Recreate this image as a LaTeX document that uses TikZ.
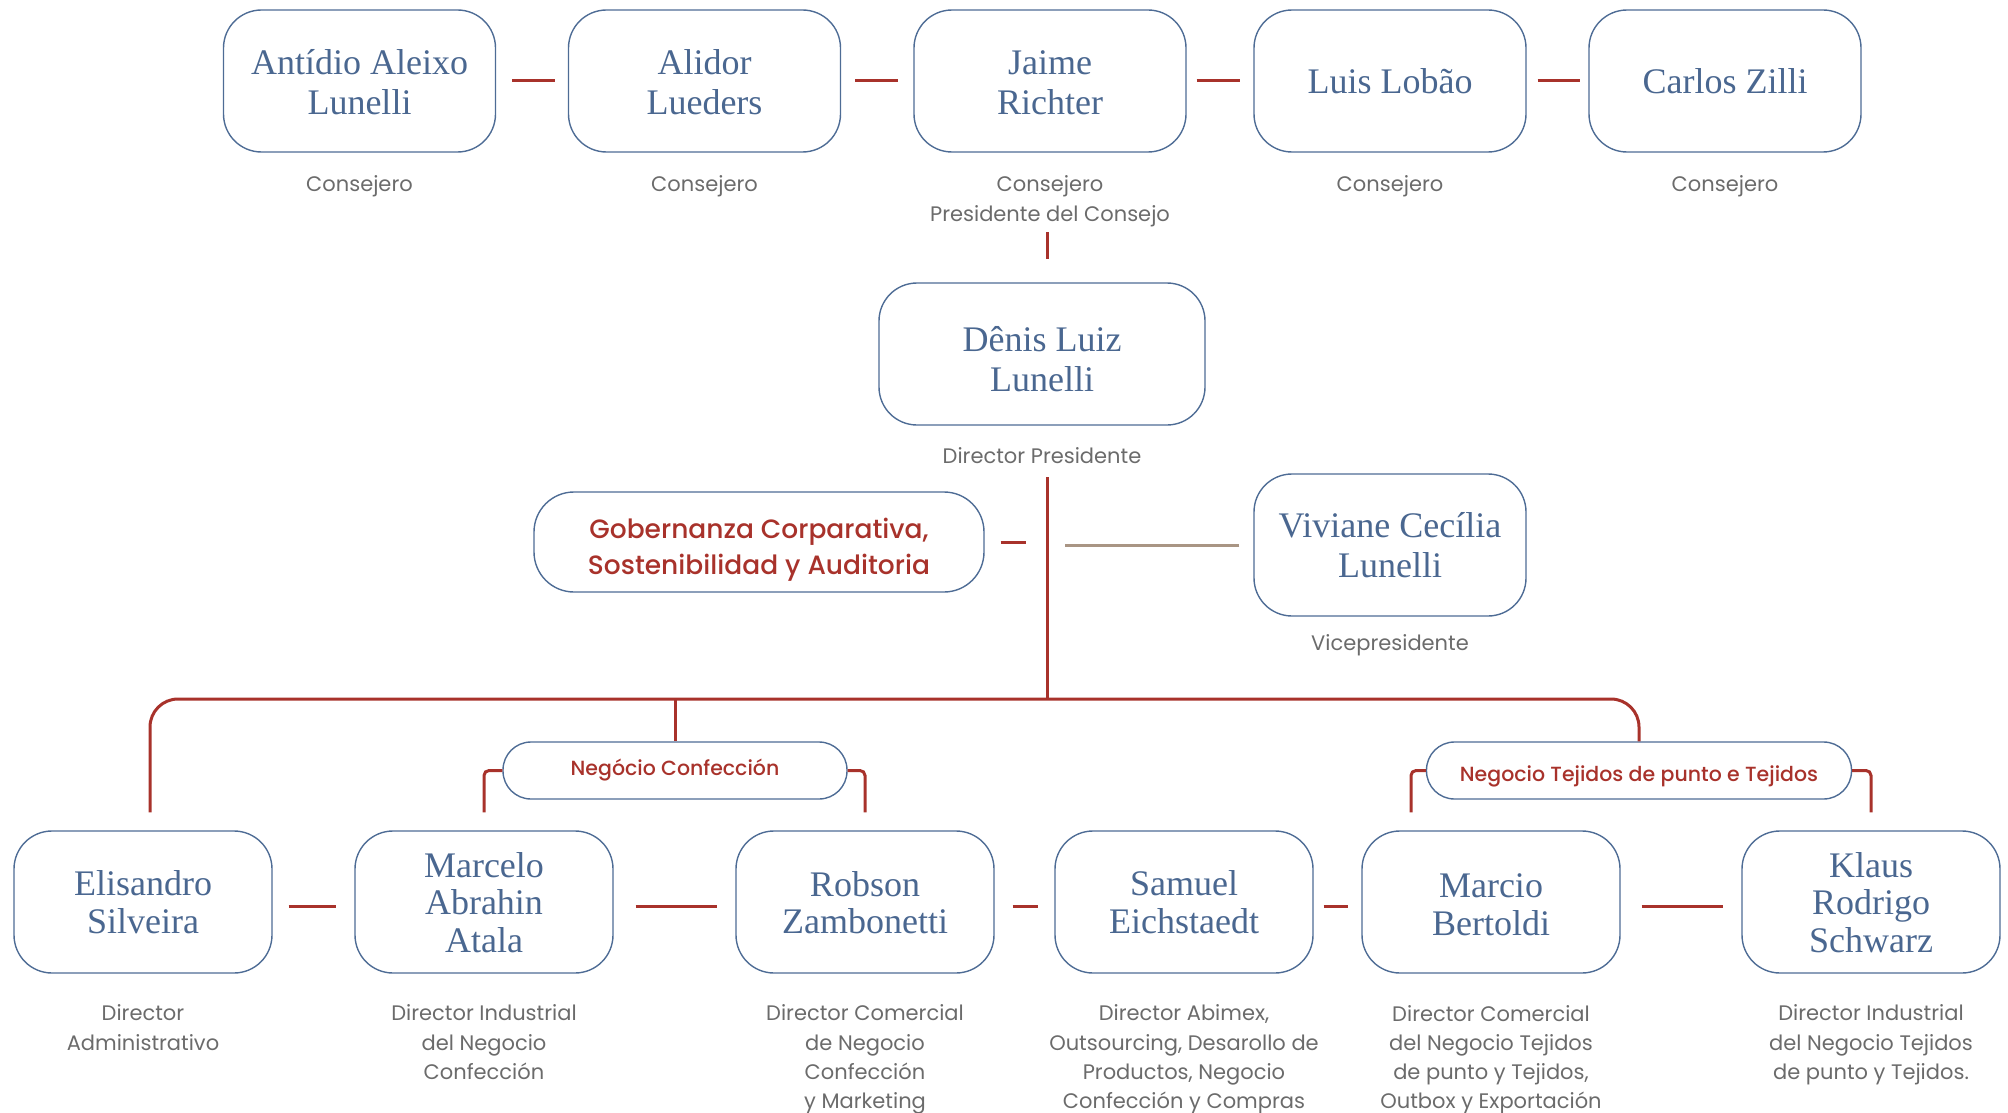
\documentclass[tikz,border=0pt]{standalone}
\usepackage{fontspec}
\usetikzlibrary{positioning,calc}
\newfontfamily\namefont{Liberation Serif}
\newfontfamily\popfont{Poppins}
\newfontfamily\popmedium{Poppins Medium}
\definecolor{frame}{HTML}{4E6C95}
\definecolor{namecol}{HTML}{4A6790}
\definecolor{wine}{HTML}{A8322B}
\definecolor{rolecol}{HTML}{6B6B6B}
\definecolor{tan}{HTML}{A99584}
\tikzset{
  every node/.style={inner sep=0pt},
  person/.style={draw=frame,line width=1.4pt,rounded corners=38pt,minimum width=272pt,minimum height=142pt,align=center,text=namecol,font=\namefont\fontsize{36}{40}\selectfont},
  lowbox/.style={person,minimum width=258pt,font=\namefont\fontsize{36}{37.5}\selectfont},
  nameh/.style={text height=#1,text depth=8pt},
  unitbox/.style={draw=frame,line width=1.4pt,rounded corners=28pt,minimum height=57pt,text=wine,font=\popmedium\fontsize{20.5}{24}\selectfont},
  govbox/.style={draw=frame,line width=1.4pt,rounded corners=40pt,minimum width=450pt,minimum height=100pt,align=center,text=wine,font=\popmedium\fontsize{26.5}{36}\selectfont},
  role/.style={anchor=north,align=center,text=rolecol,font=\popfont\fontsize{21}{29.2}\selectfont},
  link/.style={draw=wine,line width=3pt},
  softlink/.style={draw=tan,line width=3pt},
}
\begin{document}
\begin{tikzpicture}[x=1pt,y=-1pt]
\useasboundingbox (0,0) rectangle (2008,1113);
\node[person,nameh=76pt] (antidio) at (359.5,81) {Antídio Aleixo\\Lunelli};
\node[person,nameh=76pt] (alidor) at (704.5,81) {Alidor\\Lueders};
\node[person,nameh=76pt] (jaime) at (1050,81) {Jaime\\Richter};
\node[person,nameh=34pt] (luis) at (1390,81) {Luis Lobão};
\node[person,nameh=34pt] (carlos) at (1725,81) {Carlos Zilli};
\node[role,below=23pt of antidio] {Consejero};
\node[role,below=23pt of alidor] {Consejero};
\node[role,below=23pt of jaime] {Consejero\\Presidente del Consejo};
\node[role,below=23pt of luis] {Consejero};
\node[role,below=23pt of carlos] {Consejero};
\draw[link,shorten <=16pt,shorten >=13pt] (antidio.east) -- (alidor.west);
\draw[link,shorten <=14pt,shorten >=15pt] (alidor.east) -- (jaime.west);
\draw[link,shorten <=10pt,shorten >=13pt] (jaime.east) -- (luis.west);
\draw[link,shorten <=11pt,shorten >=8pt] (luis.east) -- (carlos.west);

\node[person,nameh=82pt,minimum width=326pt] (denis) at (1042,354) {Dênis Luiz\\Lunelli};
\node[role,below=22pt of denis] (dirpres) {Director Presidente};
\coordinate (board) at (1047,232);
\draw[link,shorten >=23pt] (board) -- (board |- denis.north);

\node[govbox,text height=71pt] (gov) at (759,542) {Gobernanza Corparativa,\\Sostenibilidad y Auditoria};
\node[person,nameh=73pt] (viviane) at (1390,545) {Viviane Cecília\\Lunelli};
\node[role,below=18pt of viviane] {Vicepresidente};
\coordinate (trunk) at (1047,477);
\coordinate (bus) at (1047,699);
\draw[link] (trunk) -- (bus);
\draw[link,shorten <=16pt,shorten >=21pt] (gov.east) -- (gov.east -| trunk);
\draw[softlink,shorten <=14pt,shorten >=18pt] (viviane.west) -- (viviane.west -| trunk);

\node[lowbox,nameh=70pt] (elisandro) at (143,902) {Elisandro\\Silveira};
\node[lowbox,nameh=108pt] (marcelo) at (484,902) {Marcelo\\Abrahin\\Atala};
\node[lowbox,nameh=71pt] (robson) at (865,902) {Robson\\Zambonetti};
\node[lowbox,nameh=70pt] (samuel) at (1184,902) {Samuel\\Eichstaedt};
\node[lowbox,nameh=74pt] (marcio) at (1491,902) {Marcio\\Bertoldi};
\node[lowbox,nameh=108pt] (klaus) at (1871,902) {Klaus\\Rodrigo\\Schwarz};
\node[role,below=31pt of elisandro] {Director\\Administrativo};
\node[role,below=31pt of marcelo] {Director Industrial\\del Negocio\\Confección};
\node[role,below=31pt of robson] {Director Comercial\\de Negocio\\Confección\\y Marketing};
\node[role,below=31pt of samuel] {Director Abimex,\\Outsourcing, Desarollo de\\Productos, Negocio\\Confección y Compras};
\node[role,below=31.5pt of marcio] {Director Comercial\\del Negocio Tejidos\\de punto y Tejidos,\\Outbox y Exportación};
\node[role,below=31pt of klaus] {Director Industrial\\del Negocio Tejidos\\de punto y Tejidos.};

\node[unitbox,minimum width=344pt] (confeccion) at (675,770.5) {Negócio Confección};
\node[unitbox,minimum width=425pt,text height=28pt,text depth=5.5pt] (tejidos) at (1639,770.5) {Negocio Tejidos de punto e Tejidos};

\draw[link,rounded corners=28pt] ([xshift=7pt,yshift=18pt]elisandro.north) |- (bus) -| (tejidos.north);
\draw[link] (bus -| confeccion.north) -- (confeccion.north);
\draw[link,rounded corners=5pt] (confeccion.west) -| ([yshift=18pt]marcelo.north);
\draw[link,rounded corners=5pt] (confeccion.east) -| ([yshift=18pt]robson.north);
\draw[link,rounded corners=5pt] (tejidos.west) -| ([xshift=-80pt,yshift=18pt]marcio.north);
\draw[link,rounded corners=5pt] (tejidos.east) -| ([yshift=18pt]klaus.north);

\draw[link,shorten <=16pt,shorten >=18pt] ([yshift=-4pt]elisandro.east) -- ([yshift=-4pt]marcelo.west);
\draw[link,shorten <=22pt,shorten >=18pt] ([yshift=-4pt]marcelo.east) -- ([yshift=-4pt]robson.west);
\draw[link,shorten <=18pt,shorten >=16pt] ([yshift=-4pt]robson.east) -- ([yshift=-4pt]samuel.west);
\draw[link,shorten <=10pt,shorten >=13pt] ([yshift=-4pt]samuel.east) -- ([yshift=-4pt]marcio.west);
\draw[link,shorten <=21pt,shorten >=18pt] ([yshift=-4pt]marcio.east) -- ([yshift=-4pt]klaus.west);
\end{tikzpicture}
\end{document}
